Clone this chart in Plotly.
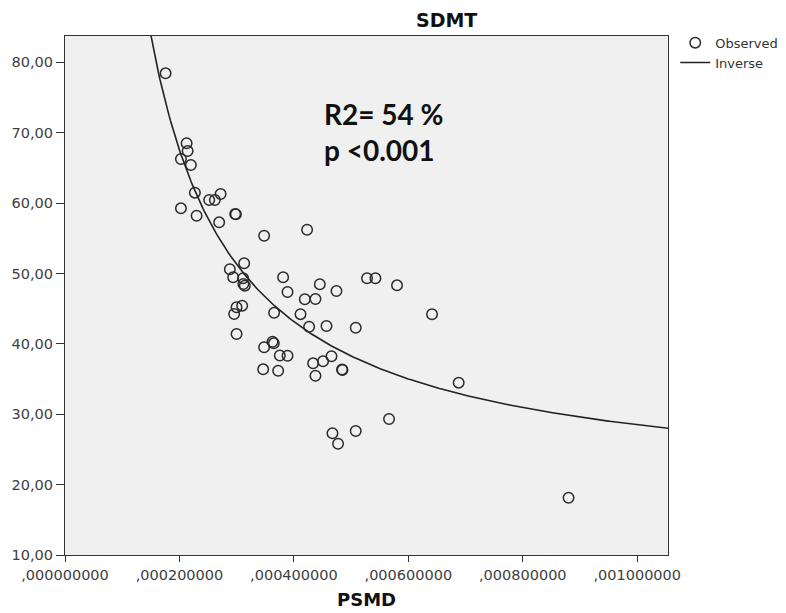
import plotly.graph_objects as go

psmd = [0.0001758, 0.0002125, 0.0002143, 0.0002026, 0.0002200, 0.0002270, 0.0002026, 0.0002300,
        0.0002520, 0.0002619, 0.0002719, 0.0002694, 0.0002986, 0.0002974, 0.0003480, 0.0004231,
        0.0003131, 0.0002881, 0.0002939, 0.0003113, 0.0003143, 0.0003117, 0.0003812, 0.0003889,
        0.0004453, 0.0004744, 0.0005279, 0.0005425, 0.0005802, 0.0004191, 0.0004377, 0.0003096,
        0.0002998, 0.0002956, 0.0003655, 0.0004116, 0.0004266, 0.0004570, 0.0005081, 0.0006414,
        0.0002998, 0.0003480, 0.0003627, 0.0003649, 0.0003754, 0.0003889, 0.0003463, 0.0003725,
        0.0004336, 0.0004510, 0.0004657, 0.0004849, 0.0004842, 0.0004377, 0.0006880, 0.0005663,
        0.0004674, 0.0005081, 0.0004772, 0.0008800]
sdmt = [78.43, 68.49, 67.39, 66.26, 65.41, 61.47, 59.25, 58.20,
        60.43, 60.43, 61.29, 57.26, 58.40, 58.44, 55.36, 56.21,
        51.44, 50.59, 49.45, 49.31, 48.26, 48.50, 49.45, 47.36,
        48.46, 47.51, 49.31, 49.31, 48.31, 46.33, 46.37, 45.42,
        45.19, 44.24, 44.42, 44.21, 42.43, 42.53, 42.29, 44.20,
        41.40, 39.51, 40.30, 40.07, 38.34, 38.31, 36.38, 36.18,
        37.23, 37.52, 38.23, 36.28, 36.35, 35.47, 34.48, 29.32,
        27.29, 27.62, 25.81, 18.14]

# Inverse model coefficients: SDMT = b0 + b1 / PSMD
b0 = 18.74
b1 = 0.009762

x_range = [0.0, 0.0010538]
y_range = [10.0, 83.73]

y_tickvals = [10, 20, 30, 40, 50, 60, 70, 80]
y_ticktext = ["10,00", "20,00", "30,00", "40,00", "50,00", "60,00", "70,00", "80,00"]
x_tickvals = [0.0, 0.0002, 0.0004, 0.0006, 0.0008, 0.0010]
x_ticktext = [",000000000", ",000200000", ",000400000", ",000600000", ",000800000", ",001000000"]

n_curve = 400
x_start = b1 / (y_range[1] + 1 - b0)
curve_x = [x_start + (x_range[1] - x_start) * i / (n_curve - 1) for i in range(n_curve)]
curve_y = [b0 + b1 / v for v in curve_x]

fig = go.Figure()
fig.add_trace(go.Scatter(
    x=psmd, y=sdmt, mode="markers", name="Observed",
    marker=dict(symbol="circle-open", size=10.5, color="#2a2a2a", line=dict(width=1.5, color="#2a2a2a")),
))
fig.add_trace(go.Scatter(
    x=curve_x, y=curve_y, mode="lines", name="Inverse",
    line=dict(color="#222222", width=1.6),
))

axis_font = dict(family="DejaVu Sans", size=14.5, color="#404040")
fig.update_layout(
    width=786, height=613,
    margin=dict(l=65, r=118, t=36, b=58, autoexpand=False),
    paper_bgcolor="white",
    plot_bgcolor="#f0f0f0",
    showlegend=True,
    legend=dict(
        x=1.012, y=1.016, xanchor="left", yanchor="top",
        font=dict(family="DejaVu Sans", size=13, color="#333333"),
        bgcolor="rgba(0,0,0,0)", borderwidth=0,
        itemwidth=30, tracegroupgap=0,
    ),
    xaxis=dict(
        range=x_range, tickvals=x_tickvals, ticktext=x_ticktext,
        showgrid=False, zeroline=False, showline=True, mirror=True,
        linecolor="#333333", linewidth=1.2,
        ticks="outside", ticklen=6, tickcolor="#333333", tickwidth=1.2,
        tickfont=axis_font, automargin=False,
        title=dict(text="<b>PSMD</b>", font=dict(family="DejaVu Sans", size=18, color="#111111"), standoff=11),
    ),
    yaxis=dict(
        range=y_range, tickvals=y_tickvals, ticktext=y_ticktext,
        showgrid=False, zeroline=False, showline=True, mirror=True,
        linecolor="#333333", linewidth=1.2,
        ticks="outside", ticklen=8, tickcolor="#333333", tickwidth=1.2,
        tickfont=axis_font, automargin=False,
    ),
    annotations=[
        dict(text="<b>SDMT</b>", xref="paper", yref="paper", x=0.632, y=(555 - 19.5) / 519,
             xanchor="center", yanchor="middle", showarrow=False,
             font=dict(family="DejaVu Sans", size=19, color="#111111")),
        dict(text="<b>R2= 54 %</b>", xref="paper", yref="paper", x=(322 - 65) / 603, y=(555 - 114) / 519,
             xanchor="left", yanchor="middle", showarrow=False,
             font=dict(family="Lato", size=28, color="#111111")),
        dict(text="<b>p &lt;0.001</b>", xref="paper", yref="paper", x=(322 - 65) / 603, y=(555 - 150) / 519,
             xanchor="left", yanchor="middle", showarrow=False,
             font=dict(family="Lato", size=28, color="#111111")),
    ],
)

fig.write_html("out.html")
